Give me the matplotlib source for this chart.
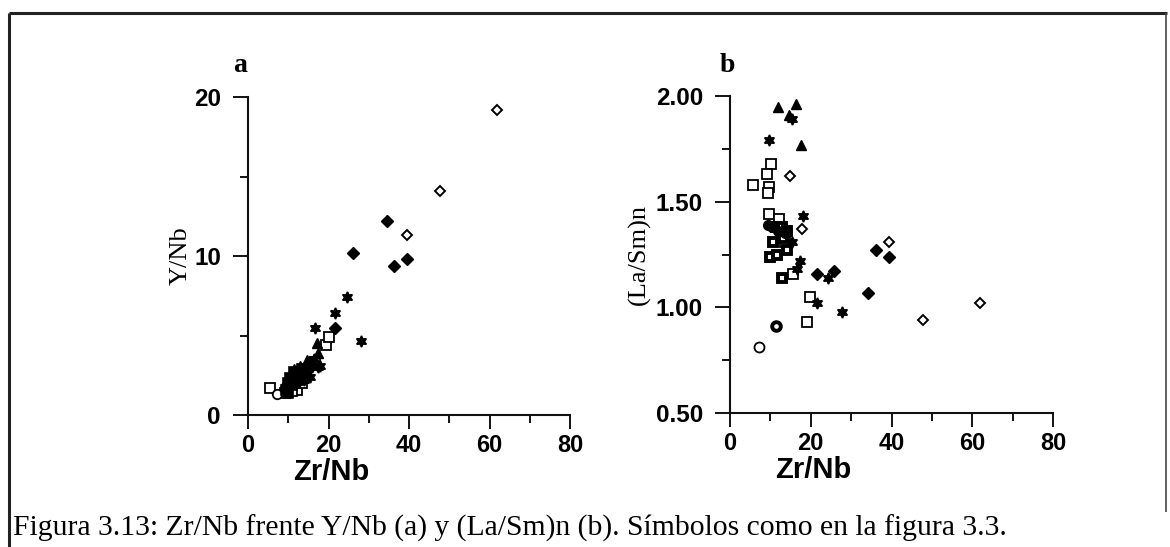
import matplotlib
matplotlib.use('Agg')
import matplotlib.pyplot as plt

# ---------------- data: panel a (Zr/Nb vs Y/Nb) ----------------
a_open_sq_x = [5.5, 9.2, 12.1, 16.6, 19.4, 20.0, 11.0, 13.5]
a_open_sq_y = [1.7, 1.36, 1.6, 3.35, 4.4, 4.9, 1.5, 2.0]
a_fill_sq_x = [9.5, 10.0, 10.5, 11.0, 12.0, 13.0, 12.5, 14.0, 11.5, 13.5, 10.0]
a_fill_sq_y = [1.6, 2.0, 2.3, 1.9, 2.4, 2.6, 2.2, 2.5, 2.7, 2.9, 1.4]
a_fill_ci_x = [9.5, 10.5, 11.0, 12.0]
a_fill_ci_y = [1.8, 2.1, 2.4, 2.0]
a_open_ci_x = [7.3]
a_open_ci_y = [1.3]
a_tri_x = [11.5, 13.0, 15.0, 14.7, 17.1, 17.4]
a_tri_y = [2.9, 3.1, 3.3, 3.46, 4.5, 3.9]
a_star_x = [14.5, 15.5, 16.0, 16.5, 17.5, 12.5, 14.0, 17.9, 16.6, 21.6, 24.5, 28.0]
a_star_y = [2.6, 2.4, 3.0, 3.5, 3.0, 2.8, 2.2, 3.1, 5.5, 6.4, 7.4, 4.65]
a_fill_di_x = [21.6, 26.0, 34.5, 36.2, 39.6]
a_fill_di_y = [5.5, 10.2, 12.2, 9.4, 9.8]
a_open_di_x = [39.6, 47.7, 61.8]
a_open_di_y = [11.3, 14.1, 19.2]

# ---------------- data: panel b (Zr/Nb vs (La/Sm)n) ----------------
b_open_sq_x = [5.6, 10.2, 9.1, 9.7, 9.5, 9.7, 12.2, 15.5, 19.8, 19.0, 13.5]
b_open_sq_y = [1.58, 1.68, 1.63, 1.57, 1.54, 1.44, 1.42, 1.16, 1.05, 0.93, 1.31]
b_fill_sq_x = [10.6, 9.9, 11.7, 14.0, 12.8, 11.5, 12.8, 14.0, 13.2]
b_fill_sq_y = [1.31, 1.24, 1.25, 1.27, 1.14, 1.38, 1.38, 1.36, 1.33]
b_fill_ci_x = [9.5, 10.5, 12.0, 13.5]
b_fill_ci_y = [1.39, 1.38, 1.36, 1.35]
b_bold_ci_x = [11.3]
b_bold_ci_y = [0.91]
b_open_ci_x = [7.3]
b_open_ci_y = [0.81]
b_tri_x = [12.0, 16.3, 14.7, 17.5]
b_tri_y = [1.95, 1.96, 1.91, 1.77]
b_star_x = [15.3, 9.7, 18.0, 15.3, 17.3, 16.5, 24.3, 21.6, 27.7]
b_star_y = [1.89, 1.79, 1.43, 1.31, 1.22, 1.18, 1.14, 1.02, 0.98]
b_fill_di_x = [21.5, 25.8, 36.2, 39.5, 34.3]
b_fill_di_y = [1.16, 1.17, 1.27, 1.24, 1.07]
b_open_di_x = [14.9, 17.8, 39.5, 47.7, 61.8]
b_open_di_y = [1.62, 1.37, 1.31, 0.94, 1.02]

x_ticks_major = [0, 20, 40, 60, 80]
x_ticks_minor = [10, 30, 50, 70]
a_y_major = [0, 10, 20]
a_y_minor = [5, 15]
b_y_major = [0.50, 1.00, 1.50, 2.00]
b_y_minor = [0.75, 1.25, 1.75]
b_y_labels = ['0.50', '1.00', '1.50', '2.00']

caption = "Figura 3.13: Zr/Nb frente Y/Nb (a) y (La/Sm)n (b). Símbolos como en la figura 3.3."

SANS = ['Liberation Sans', 'DejaVu Sans']
SERIF = ['Liberation Serif', 'DejaVu Serif']

fig = plt.figure(figsize=(11.7, 5.47), dpi=100)
fig.patch.set_facecolor('white')

# outer frame
frame = fig.add_axes([0, 0, 1, 1], zorder=-5)
frame.set_xlim(0, 1170)
frame.set_ylim(547, 0)
frame.axis('off')
frame.plot([9, 9], [13, 547], color='#222222', lw=2.2, solid_capstyle='butt')
frame.plot([9, 1167], [13, 13], color='#222222', lw=2.2, solid_capstyle='butt')
frame.plot([1166, 1166], [13, 512], color='#444444', lw=1.2, solid_capstyle='butt')


def style_axes(ax):
    for s in ['top', 'right']:
        ax.spines[s].set_visible(False)
    for s in ['left', 'bottom']:
        ax.spines[s].set_linewidth(1.5)
        ax.spines[s].set_color('#111111')
    ax.set_xlim(0, 80)
    ax.set_xticks(x_ticks_major)
    ax.set_xticks(x_ticks_minor, minor=True)
    ax.tick_params(axis='x', which='major', direction='out', length=10, width=1.3,
                   pad=4, labelsize=17)
    ax.tick_params(axis='x', which='minor', direction='out', length=6, width=1.3)
    ax.tick_params(axis='y', which='major', direction='out', length=10.5, width=1.3,
                   pad=9, labelsize=17.5)
    ax.tick_params(axis='y', which='minor', direction='out', length=6, width=1.3)
    for lab in ax.get_xticklabels() + ax.get_yticklabels():
        lab.set_fontfamily(SANS)
        lab.set_fontweight('bold')
    ax.set_facecolor('none')


def pts(ax, x, y, marker, ms, face, mew=1.2):
    ax.plot(x, y, linestyle='none', marker=marker, markersize=ms,
            markerfacecolor=face, markeredgecolor='black', markeredgewidth=mew,
            clip_on=False)


STAR = (6, 1, 0)

# ---------------- panel a ----------------
axa = fig.add_axes([248 / 1170, 1 - 415 / 547, 322 / 1170, 318 / 547])
axa.set_ylim(0, 20)
axa.set_yticks(a_y_major)
axa.set_yticks(a_y_minor, minor=True)
style_axes(axa)
pts(axa, a_open_sq_x, a_open_sq_y, 's', 7.2, 'white', 1.3)
pts(axa, a_open_ci_x, a_open_ci_y, 'o', 6.8, 'white', 1.3)
pts(axa, a_fill_sq_x, a_fill_sq_y, 's', 6.8, 'black', 1.2)
pts(axa, a_fill_ci_x, a_fill_ci_y, 'o', 6.8, 'black', 1.2)
pts(axa, a_tri_x, a_tri_y, '^', 6.5, 'black', 1.0)
pts(axa, a_star_x, a_star_y, STAR, 8.0, 'black', 1.2)
pts(axa, a_fill_di_x, a_fill_di_y, 'D', 6.0, 'black', 1.0)
pts(axa, a_open_di_x, a_open_di_y, 'D', 5.0, 'white', 1.4)
axa.set_xlabel('Zr/Nb', fontfamily=SANS, fontweight='bold', fontsize=21)
axa.xaxis.set_label_coords(0.258, -0.135)
axa.set_ylabel('Y/Nb', fontfamily=SERIF, fontsize=19)
axa.yaxis.set_label_coords(-0.175, 0.5)

# ---------------- panel b ----------------
axb = fig.add_axes([730 / 1170, 1 - 413 / 547, 323 / 1170, 317 / 547])
axb.set_ylim(0.5, 2.0)
axb.set_yticks(b_y_major)
axb.set_yticklabels(b_y_labels)
axb.set_yticks(b_y_minor, minor=True)
style_axes(axb)
pts(axb, b_open_sq_x, b_open_sq_y, 's', 7.2, 'white', 1.3)
pts(axb, b_fill_sq_x, b_fill_sq_y, 's', 6.2, 'white', 2.8)
pts(axb, b_fill_ci_x, b_fill_ci_y, 'o', 6.8, 'black', 1.2)
pts(axb, b_bold_ci_x, b_bold_ci_y, 'o', 6.2, 'white', 2.8)
pts(axb, b_open_ci_x, b_open_ci_y, 'o', 7.2, 'white', 1.3)
pts(axb, b_tri_x, b_tri_y, '^', 6.5, 'black', 1.0)
pts(axb, b_star_x, b_star_y, STAR, 8.0, 'black', 1.2)
pts(axb, b_fill_di_x, b_fill_di_y, 'D', 6.0, 'black', 1.0)
pts(axb, b_open_di_x, b_open_di_y, 'D', 5.0, 'white', 1.4)
axb.set_xlabel('Zr/Nb', fontfamily=SANS, fontweight='bold', fontsize=21)
axb.xaxis.set_label_coords(0.258, -0.135)
axb.set_ylabel('(La/Sm)n', fontfamily=SERIF, fontsize=19)
axb.yaxis.set_label_coords(-0.245, 0.5)

# panel letters
fig.text(240 / 1170, 1 - 72 / 547, 'a', fontfamily=SERIF, fontweight='bold',
         fontsize=20, ha='center', va='baseline')
fig.text(727 / 1170, 1 - 72 / 547, 'b', fontfamily=SERIF, fontweight='bold',
         fontsize=20, ha='center', va='baseline')

# caption
fig.text(13 / 1170, 1 - 536 / 547, caption, fontfamily=SERIF, fontsize=21.3,
         ha='left', va='baseline')

fig.savefig('out.png', dpi=100, facecolor='white')
